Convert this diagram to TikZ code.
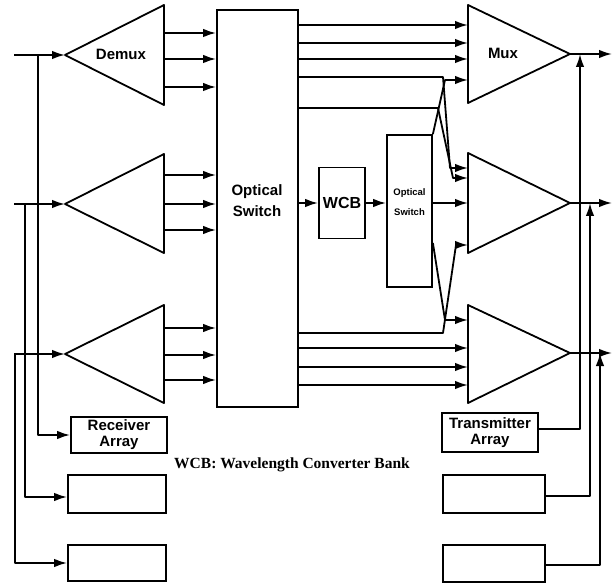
\documentclass[tikz,border=0pt]{standalone}
\usepackage{fontspec}
\setmainfont{Liberation Serif}
\setsansfont{Liberation Sans}
\usetikzlibrary{arrows.meta}

\begin{document}
\begin{tikzpicture}[x=1pt,y=-1pt,
  ln/.style={line width=1.8pt,line join=round},
  arr/.style={ln,-{Latex[length=13pt,width=8.5pt]}},
  unit/.style={draw,line width=1.8pt,inner sep=0pt,align=center,font=\sffamily\bfseries\fontsize{15}{16}\selectfont},
  lbl/.style={inner sep=0pt,align=center,font=\sffamily\bfseries\fontsize{15}{21}\selectfont}]
\path[use as bounding box] (0,0) rectangle (614,583);
% demultiplexers
\path (65,55) coordinate (dm1a) (164,5) coordinate (dm1t) (164,105) coordinate (dm1b);
\path (65,204) coordinate (dm2a) (164,154) coordinate (dm2t) (164,253) coordinate (dm2b);
\path (65,354) coordinate (dm3a) (164,305) coordinate (dm3t) (164,403) coordinate (dm3b);
\draw[ln] (dm1a) -- (dm1t) -- (dm1b) -- cycle;
\draw[ln] (dm2a) -- (dm2t) -- (dm2b) -- cycle;
\draw[ln] (dm3a) -- (dm3t) -- (dm3b) -- cycle;
\node[lbl] (demuxlbl) at (121,54) {Demux};
% multiplexers
\path (570,54) coordinate (mx1a) (468,5) coordinate (mx1t) (468,103) coordinate (mx1b);
\path (570,203) coordinate (mx2a) (468,153) coordinate (mx2t) (468,253) coordinate (mx2b);
\path (570,353) coordinate (mx3a) (468,305) coordinate (mx3t) (468,403) coordinate (mx3b);
\draw[ln] (mx1a) -- (mx1t) -- (mx1b) -- cycle;
\draw[ln] (mx2a) -- (mx2t) -- (mx2b) -- cycle;
\draw[ln] (mx3a) -- (mx3t) -- (mx3b) -- cycle;
\node[lbl] (muxlbl) at (503,53) {Mux};
% switches and converter bank
\node[unit,minimum width=81pt,minimum height=397pt] (sw) at (257.5,208.5) {};
\node[lbl] (swlbl) at (257,201) {Optical\\Switch};
\node[unit,minimum width=46pt,minimum height=71pt,font=\sffamily\bfseries\fontsize{16}{18}\selectfont] (wcb) at (342,203) {WCB};
\node[unit,minimum width=45pt,minimum height=152pt] (osw) at (409.5,211) {};
\node[lbl,font=\sffamily\bfseries\fontsize{9.5}{20}\selectfont] (oswlbl) at (409.5,202) {Optical\\Switch};
% receiver and transmitter arrays
\node[unit,minimum width=96pt,minimum height=36pt] (rx1) at (119,435) {Receiver\\Array};
\node[unit,minimum width=98pt,minimum height=38pt] (rx2) at (117,494) {};
\node[unit,minimum width=98pt,minimum height=36pt] (rx3) at (117,563) {};
\node[unit,minimum width=96pt,minimum height=39pt] (tx1) at (490,432.5) {Transmitter\\Array};
\node[unit,minimum width=102pt,minimum height=38pt] (tx2) at (494,494) {};
\node[unit,minimum width=102pt,minimum height=37pt] (tx3) at (494,563.5) {};
\node[inner sep=0pt,font=\bfseries\fontsize{15.5}{18}\selectfont] (note) at (292,465) {WCB: Wavelength Converter Bank};
% inputs
\path (14,55) coordinate (in1) (14,204) coordinate (in2) (14,354) coordinate (in3);
\draw[arr] (in1) -- (dm1a);
\draw[arr] (in2) -- (dm2a);
\draw[arr] (in3) -- (dm3a);
\draw[arr] (in1 -| 38,0) |- (rx1.west);
\draw[arr] (in2 -| 25,0) |- (rx2.west |- 0,497);
\draw[arr] (in3 -| 15,0) |- (rx3.west);
% demux to switch
\draw[arr] (dm1t |- 0,33) -- (sw.west |- 0,33);
\draw[arr] (dm1t |- 0,59) -- (sw.west |- 0,59);
\draw[arr] (dm1t |- 0,87) -- (sw.west |- 0,87);
\draw[arr] (dm2t |- 0,175) -- (sw.west |- 0,175);
\draw[arr] (dm2t |- 0,204) -- (sw.west |- 0,204);
\draw[arr] (dm2t |- 0,230) -- (sw.west |- 0,230);
\draw[arr] (dm3t |- 0,328) -- (sw.west |- 0,328);
\draw[arr] (dm3t |- 0,355) -- (sw.west |- 0,355);
\draw[arr] (dm3t |- 0,380) -- (sw.west |- 0,380);
% switch to mux
\draw[arr] (sw.east |- 0,25) -- (mx1t |- 0,25);
\draw[arr] (sw.east |- 0,43) -- (mx1t |- 0,43);
\draw[arr] (sw.east |- 0,59) -- (mx1t |- 0,59);
\draw[arr] (sw.east |- 0,77) -- (443,77) -- (450,168) -- (mx2t |- 0,168);
\draw[arr] (sw.east |- 0,108) -- (438,108) -- (453,178) -- (mx2t |- 0,178);
\draw[arr] (osw.north east) -- (445,80) -- (mx1t |- 0,80);
\draw[arr] (sw.east |- 0,203) -- (wcb.west);
\draw[arr] (wcb.east) -- (wcb.east -| osw.west);
\draw[arr] (wcb.east -| osw.east) -- (wcb.east -| mx2t);
\draw[arr] (sw.east |- 0,333) -- (443,333) -- (456,245) -- (mx2t |- 0,245);
\draw[arr] (osw.east |- 0,243) -- (445,320) -- (mx3t |- 0,320);
\draw[arr] (sw.east |- 0,348) -- (mx3t |- 0,348);
\draw[arr] (sw.east |- 0,367) -- (mx3t |- 0,367);
\draw[arr] (sw.east |- 0,385) -- (mx3t |- 0,385);
% outputs
\path (612,54) coordinate (out1) (612,203) coordinate (out2) (612,353) coordinate (out3);
\draw[arr] (mx1a) -- (out1);
\draw[arr] (mx2a) -- (out2);
\draw[arr] (mx3a) -- (out3);
\draw[arr] (tx1.east |- 0,429) -| (mx1a -| 580,0);
\draw[arr] (tx2.east |- 0,496) -| (mx2a -| 590,0);
\draw[arr] (tx3.east |- 0,565) -| (mx3a -| 600,0);
\end{tikzpicture}
\end{document}
